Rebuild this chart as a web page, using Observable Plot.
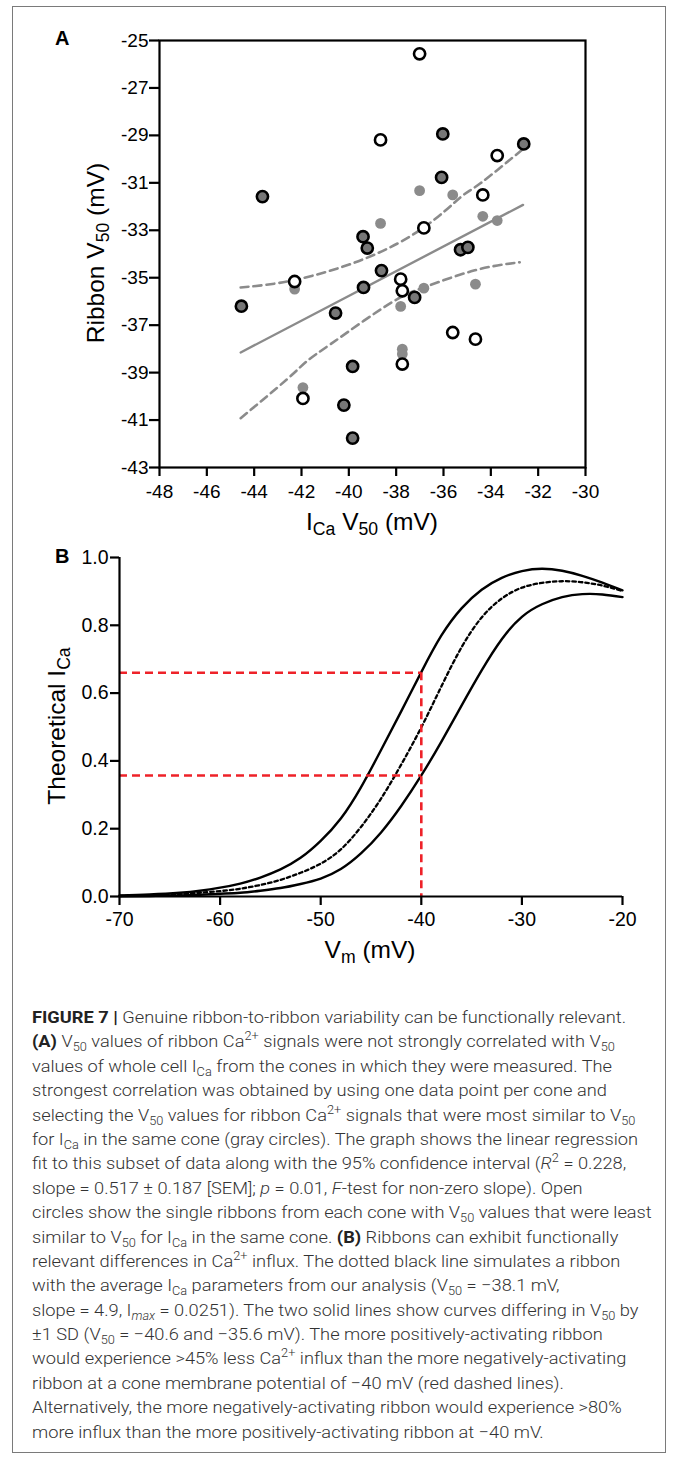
<!DOCTYPE html>
<html><head><meta charset="utf-8">
<script src="https://cdn.jsdelivr.net/npm/d3@7"></script>
<script src="https://cdn.jsdelivr.net/npm/@observablehq/plot@0.6"></script>
<style>
body{margin:0;background:#fff;}
#page{position:relative;width:676px;height:1459px;overflow:hidden;font-family:'Liberation Sans',Arial,Helvetica,sans-serif;background:#fff;}
#frame{position:absolute;left:12px;top:6px;width:654px;height:1447px;border:1.5px solid #7a7a7a;box-sizing:border-box;}
.abs{position:absolute;white-space:nowrap;}
.ttl{font-size:24.5px;line-height:24.5px;color:#000;}
.ttl sub{font-size:0.72em;line-height:0;vertical-align:-0.28em;}
.lab{font-size:20px;line-height:20px;font-weight:bold;color:#000;}
.panel{position:absolute;left:0;}
.panel svg{overflow:visible;}
.panel g[aria-label$="tick"], .panel g[aria-label$="axis"] line{stroke-width:2.2px;}
#caption{position:absolute;left:32px;top:1005px;font-family:Roboto,'Liberation Sans',sans-serif;font-weight:300;color:#333;font-size:17px;transform-origin:0 0;}
#caption div{white-space:nowrap;line-height:24.4px;height:24.4px;}
#caption b{font-weight:700;color:#222;}
#caption sub,#caption sup{font-size:0.7em;line-height:0;}
</style>
</head><body>
<div id="page">
  <div id="frame"></div>
  <div id="panelA" class="panel" style="top:0px"></div>
  <div id="panelB" class="panel" style="top:530px"></div>
  <div class="abs lab" style="left:55px;top:28px">A</div>
  <div class="abs lab" style="left:55px;top:546px">B</div>
  <div class="abs ttl" style="left:372px;top:510px;transform:translateX(-50%)">I<sub>Ca</sub> V<sub>50</sub> (mV)</div>
  <div class="abs ttl" style="left:95.5px;top:253px;transform:translate(-50%,-50%) rotate(-90deg)">Ribbon V<sub>50</sub> (mV)</div>
  <div class="abs ttl" style="left:370px;top:938px;transform:translateX(-50%)">V<sub>m</sub> (mV)</div>
  <div class="abs ttl" style="left:56.5px;top:726px;transform:translate(-50%,-50%) rotate(-90deg)">Theoretical I<sub>Ca</sub></div>
  <div id="caption">
    <div><b>FIGURE 7 |</b> Genuine ribbon-to-ribbon variability can be functionally relevant.</div>
    <div><b>(A)</b> V<sub>50</sub> values of ribbon Ca<sup>2+</sup> signals were not strongly correlated with V<sub>50</sub></div>
    <div>values of whole cell I<sub>Ca</sub> from the cones in which they were measured. The</div>
    <div>strongest correlation was obtained by using one data point per cone and</div>
    <div>selecting the V<sub>50</sub> values for ribbon Ca<sup>2+</sup> signals that were most similar to V<sub>50</sub></div>
    <div>for I<sub>Ca</sub> in the same cone (gray circles). The graph shows the linear regression</div>
    <div>fit to this subset of data along with the 95% confidence interval (<i>R</i><sup>2</sup> = 0.228,</div>
    <div>slope = 0.517 ± 0.187 [SEM]; <i>p</i> = 0.01, <i>F</i>-test for non-zero slope). Open</div>
    <div>circles show the single ribbons from each cone with V<sub>50</sub> values that were least</div>
    <div>similar to V<sub>50</sub> for I<sub>Ca</sub> in the same cone. <b>(B)</b> Ribbons can exhibit functionally</div>
    <div>relevant differences in Ca<sup>2+</sup> influx. The dotted black line simulates a ribbon</div>
    <div>with the average I<sub>Ca</sub> parameters from our analysis (V<sub>50</sub> = −38.1 mV,</div>
    <div>slope = 4.9, I<sub><i>max</i></sub> = 0.0251). The two solid lines show curves differing in V<sub>50</sub> by</div>
    <div>±1 SD (V<sub>50</sub> = −40.6 and −35.6 mV). The more positively-activating ribbon</div>
    <div>would experience &gt;45% less Ca<sup>2+</sup> influx than the more negatively-activating</div>
    <div>ribbon at a cone membrane potential of −40 mV (red dashed lines).</div>
    <div>Alternatively, the more negatively-activating ribbon would experience &gt;80%</div>
    <div>more influx than the more positively-activating ribbon at −40 mV.</div>
  </div>
</div>
<script>
// ---------- Panel A data ----------
const xDomainA = [-48, -30];
const yDomainA = [-43, -25];
const xTicksA = [-48, -46, -44, -42, -40, -38, -36, -34, -32, -30];
const yTicksA = [-25, -27, -29, -31, -33, -35, -37, -39, -41, -43];

// gray circles (most similar ribbons)
const grayX = [-37.01, -35.61, -38.66, -34.34, -33.73, -42.29, -36.83, -34.65, -37.81, -37.74, -37.74, -41.94];
const grayY = [-31.33, -31.51, -32.71, -32.41, -32.59, -35.48, -35.44, -35.27, -36.21, -38.01, -38.22, -39.63];
// open circles (least similar ribbons)
const openX = [-37.01, -38.66, -33.73, -34.34, -36.83, -42.29, -37.81, -37.74, -35.61, -34.65, -37.74, -41.94];
const openY = [-25.56, -29.19, -29.85, -31.51, -32.90, -35.16, -35.06, -35.55, -37.31, -37.59, -38.64, -40.09];
// dark filled circles
const darkX = [-32.61, -36.03, -36.08, -43.65, -39.40, -39.22, -35.28, -34.97, -38.62, -39.38, -37.22, -44.54, -40.56, -39.84, -40.21, -39.84];
const darkY = [-29.36, -28.94, -30.77, -31.58, -33.27, -33.75, -33.82, -33.72, -34.70, -35.41, -35.83, -36.20, -36.49, -38.74, -40.37, -41.76];

// regression line and 95% CI
const fitX = [-44.57, -32.64];
const fitY = [-38.15, -31.93];
const ciUpX = [-44.57, -42.32, -39.36, -36.83, -35.28, -34.44, -32.89, -32.65];
const ciUpY = [-35.41, -35.10, -34.21, -32.88, -31.61, -31.02, -29.78, -29.60];
const ciLoX = [-44.57, -42.60, -41.75, -40.77, -39.36, -37.95, -36.83, -34.72, -32.78];
const ciLoY = [-40.92, -39.27, -38.50, -37.80, -36.81, -35.90, -35.41, -34.70, -34.35];

// ---------- Panel B data ----------
const vmDomain = [-70, -20];
const iDomain = [0, 1];
const vmTicks = [-70, -60, -50, -40, -30, -20];
const iTicks = [0, 0.2, 0.4, 0.6, 0.8, 1.0];
const vm   = [-70, -67, -64, -62, -60, -58, -56, -54, -52, -50, -48, -46, -44, -42, -40, -38, -36, -34, -32, -30, -28, -26, -24, -22, -20];
const iNeg = [0.003, 0.006, 0.011, 0.017, 0.026, 0.038, 0.056, 0.080, 0.114, 0.164, 0.230, 0.322, 0.432, 0.546, 0.662, 0.770, 0.850, 0.905, 0.940, 0.960, 0.967, 0.961, 0.946, 0.926, 0.903];
const iAvg = [0.0015, 0.0035, 0.007, 0.011, 0.016, 0.023, 0.034, 0.049, 0.070, 0.097, 0.139, 0.205, 0.289, 0.389, 0.499, 0.620, 0.735, 0.823, 0.879, 0.911, 0.925, 0.930, 0.927, 0.917, 0.901];
const iPos = [0.0007, 0.0015, 0.003, 0.005, 0.008, 0.011, 0.017, 0.025, 0.037, 0.053, 0.081, 0.127, 0.189, 0.267, 0.357, 0.457, 0.563, 0.667, 0.759, 0.825, 0.862, 0.883, 0.892, 0.891, 0.883];
const redV = -40;
const redLevels = [0.66, 0.357];

// ---------- build ----------
const pts = (xs, ys) => xs.map((x, i) => ({x, y: ys[i]}));
const font = "'Liberation Sans', Arial, Helvetica, sans-serif";
const GRAY = "#8b8b8b";

const plotA = Plot.plot({
  width: 676, height: 547,
  marginTop: 40, marginRight: 91, marginBottom: 80, marginLeft: 159,
  style: {fontFamily: font, fontSize: "19px", color: "black", background: "transparent", overflow: "visible"},
  x: {domain: xDomainA, ticks: xTicksA, tickFormat: d => String(d), tickSize: 9, tickPadding: 8, label: null},
  y: {domain: yDomainA, ticks: yTicksA, tickFormat: d => String(d), tickSize: 10, tickPadding: 1, label: null},
  marks: [
    Plot.line(pts(ciUpX, ciUpY), {x: "x", y: "y", stroke: GRAY, strokeWidth: 2.6, strokeDasharray: "8,5", curve: "natural"}),
    Plot.line(pts(ciLoX, ciLoY), {x: "x", y: "y", stroke: GRAY, strokeWidth: 2.6, strokeDasharray: "8,5", curve: "natural"}),
    Plot.line(pts(fitX, fitY), {x: "x", y: "y", stroke: GRAY, strokeWidth: 2.4}),
    Plot.dot(pts(grayX, grayY), {x: "x", y: "y", r: 5.4, fill: GRAY}),
    Plot.dot(pts(openX, openY), {x: "x", y: "y", r: 5.6, fill: "white", stroke: "black", strokeWidth: 2.6}),
    Plot.dot(pts(darkX, darkY), {x: "x", y: "y", r: 5.6, fill: "#777777", stroke: "black", strokeWidth: 2.6}),
    Plot.frame({stroke: "black", strokeWidth: 2.2})
  ]
});
document.getElementById("panelA").appendChild(plotA);

const curves = [
  ...vm.map((v, i) => ({v, i: iNeg[i], s: "neg"})),
  ...vm.map((v, i) => ({v, i: iPos[i], s: "pos"}))
];
const RED = "#ee2229";
const plotB = Plot.plot({
  width: 676, height: 436,
  marginTop: 27, marginRight: 54, marginBottom: 70, marginLeft: 119,
  style: {fontFamily: font, fontSize: "19.5px", color: "black", background: "transparent", overflow: "visible"},
  x: {domain: vmDomain, ticks: vmTicks, tickFormat: d => String(d), tickSize: 9, tickPadding: 7, label: null},
  y: {domain: iDomain, ticks: iTicks, tickFormat: d3.format(".1f"), tickSize: 9, tickPadding: 2, label: null},
  marks: [
    Plot.line(curves, {x: "v", y: "i", z: "s", stroke: "black", strokeWidth: 2.4, curve: "natural"}),
    Plot.line(vm.map((v, i) => ({v, i: iAvg[i]})), {x: "v", y: "i", stroke: "black", strokeWidth: 2.3, strokeDasharray: "3.5,3", curve: "natural"}),
    Plot.ruleY(redLevels, {x1: vmDomain[0], x2: redV, stroke: RED, strokeWidth: 2.6, strokeDasharray: "8,5"}),
    Plot.ruleX([redV], {y1: d3.max(redLevels), y2: iDomain[0], stroke: RED, strokeWidth: 2.6, strokeDasharray: "8,5"}),
    Plot.ruleX([vmDomain[0]], {y1: iDomain[0], y2: iDomain[1], stroke: "black", strokeWidth: 2.2}),
    Plot.ruleY([iDomain[0]], {x1: vmDomain[0], x2: vmDomain[1], stroke: "black", strokeWidth: 2.2})
  ]
});
document.getElementById("panelB").appendChild(plotB);

// fit caption width to the reference line lengths
const cap = document.getElementById("caption");
const rows = cap.querySelectorAll("div");
const targets = [[0, 607], [3, 581], [16, 603], [17, 479]];
let got = 0, want = 0;
targets.forEach(([k, w]) => {
  const r = document.createRange(); r.selectNodeContents(rows[k]);
  got += r.getBoundingClientRect().width; want += w;
});
cap.style.transform = `scaleX(${want / got})`;
</script>
</body></html>
